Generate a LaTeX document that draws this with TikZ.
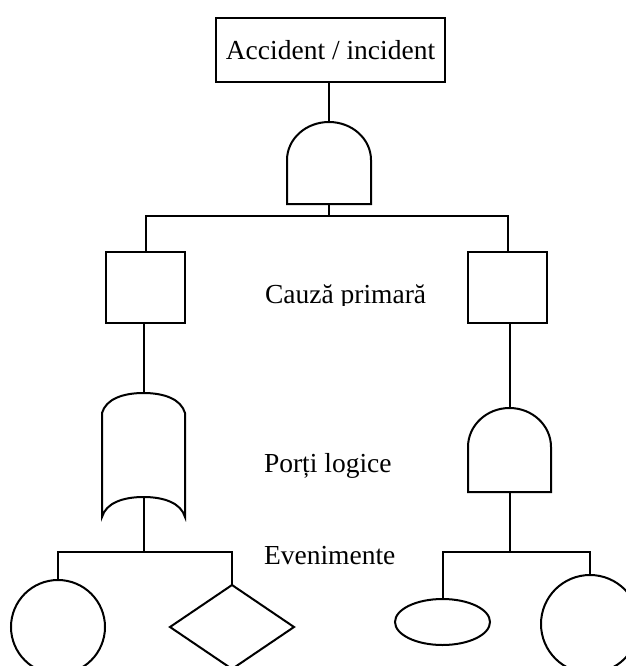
\documentclass[tikz,border=0pt]{standalone}
\usepackage{fontspec}
\setmainfont{Liberation Serif}
\usetikzlibrary{shapes.geometric}

\begin{document}
\begin{tikzpicture}[x=1pt,y=1pt,
  line width=2pt, line join=miter,
  every node/.style={inner sep=0pt, outer sep=0pt},
  lbl/.style={font=\fontsize{27.5}{32}\selectfont, anchor=base west},
  box/.style={draw, rectangle},
  gatearea/.style={rectangle, draw=none},
  event/.style={draw, circle}]

\useasboundingbox (0,0) rectangle (625,-666);

% top event
\node[box, minimum width=229pt, minimum height=64pt,
      font=\fontsize{27.5}{32}\selectfont] (acc) at (330.5,-50) {Accident / incident};

% AND gate under the top event
\node[gatearea, minimum width=84pt, minimum height=82pt] (g1) at (329,-163) {};
\draw (g1.south west) -- ++(0pt,44pt)
      arc[start angle=180, end angle=0, x radius=42pt, y radius=38pt]
      -- (g1.south east) -- cycle;

% primary causes
\node[box, minimum width=79pt, minimum height=71pt] (b1) at (145.5,-287.5) {};
\node[box, minimum width=79pt, minimum height=71pt] (b2) at (507.5,-287.5) {};

% OR-type gate on the left branch
\node[gatearea, minimum width=83pt, minimum height=124pt] (g2) at (143.5,-455) {};
\coordinate (g2out) at (143.5,-497);
\draw (102,-517) -- (102,-413)
      .. controls (106,-399) and (123,-393) .. (143.5,-393)
      .. controls (164,-393) and (181,-399) .. (185,-413)
      -- (185,-517)
      .. controls (181,-503) and (164,-497) .. (g2out)
      .. controls (123,-497) and (106,-503) .. (102,-517) -- cycle;

% AND gate on the right branch
\node[gatearea, minimum width=83pt, minimum height=84pt] (g3) at (509.5,-450) {};
\draw (g3.south west) -- ++(0pt,45pt)
      arc[start angle=180, end angle=0, x radius=41.5pt, y radius=39pt]
      -- (g3.south east) -- cycle;

% basic events
\node[event, minimum size=94pt] (c1) at (58,-627) {};
\node[draw, diamond, minimum width=124pt, minimum height=84pt] (d1) at (232,-627) {};
\node[draw, ellipse, minimum width=95pt, minimum height=46pt] (e1) at (442.5,-622) {};
\node[event, minimum size=98pt] (c2) at (590,-624) {};

% connectors
\draw (acc.south -| g1.north) -- (g1.north);
\draw (g1.south) -- ++(0,-12) -| (b1.north);
\draw (g1.south) -- ++(0,-12) -| (b2.north);
\draw (b1.south -| g2.north) -- (g2.north);
\draw (g2out) -- ++(0,-55) -| (c1.north);
\draw (g2out) -- ++(0,-55) -| (d1.north);
\draw (b2.south -| g3.north) -- (g3.north);
\draw (g3.south) -- ++(0,-60) -| (e1.north);
\draw (g3.south) -- ++(0,-60) -| (c2.north);

% level labels
\begin{scope}
  \clip (250,-270) rectangle (460,-305.5);
  \node[lbl] (lcause) at (265,-303) {Cauză primară};
\end{scope}
\node[lbl] (lgates) at (264,-472) {Porți logice};
\node[lbl] (levents) at (264,-564) {Evenimente};

\end{tikzpicture}
\end{document}
